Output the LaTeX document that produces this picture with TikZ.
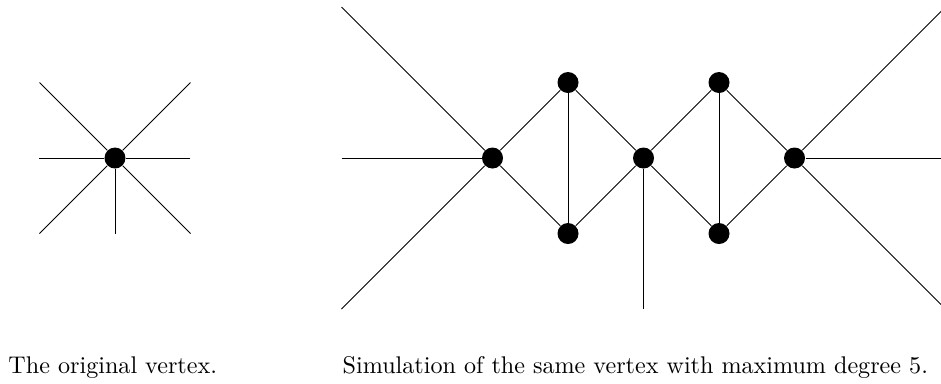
\documentclass[tikz,border=0pt]{standalone}
\usepackage{amsmath}
\usepackage{amssymb}
\usepackage{tikz}
\usetikzlibrary{positioning}

\begin{document}
\begin{tikzpicture}[x=1.1cm, y=1.1cm, on grid, dot/.style={circle, fill=black, inner sep=0pt, minimum size=8.7pt}, caption/.style={anchor=base west, inner sep=0pt}]
        \useasboundingbox (-1.523,-2.98) rectangle (10.94,2.093);

        % the original vertex
        \node[dot] (v) at (0,0) {};
        \coordinate[left=1.1cm of v] (vw);
        \coordinate[right=1.1cm of v] (ve);
        \coordinate[below=1.1cm of v] (vs);
        \coordinate[above left=1.1cm and 1.1cm of v] (vnw);
        \coordinate[above right=1.1cm and 1.1cm of v] (vne);
        \coordinate[below left=1.1cm and 1.1cm of v] (vsw);
        \coordinate[below right=1.1cm and 1.1cm of v] (vse);

        \foreach \t in {vw, ve, vs, vnw, vne, vsw, vse}
            \draw (v) -- (\t);

        % the simulation
        \node[dot] (a) at (5,0) {};
        \node[dot] (b) [above right=1.1cm and 1.1cm of a] {};
        \node[dot] (c) [below right=1.1cm and 1.1cm of a] {};
        \node[dot] (d) [below right=1.1cm and 1.1cm of b] {};
        \node[dot] (e) [above right=1.1cm and 1.1cm of d] {};
        \node[dot] (f) [below right=1.1cm and 1.1cm of d] {};
        \node[dot] (g) [below right=1.1cm and 1.1cm of e] {};

        \coordinate[above left=2.2cm and 2.2cm of a] (anw);
        \coordinate[left=2.2cm of a] (aw);
        \coordinate[below left=2.2cm and 2.2cm of a] (asw);
        \coordinate[below=2.2cm of d] (ds);
        \coordinate[above right=2.2cm and 2.2cm of g] (gne);
        \coordinate[right=2.2cm of g] (ge);
        \coordinate[below right=2.2cm and 2.2cm of g] (gse);

        \draw (a) -- (b);
        \draw (a) -- (c);
        \draw (b) -- (c);
        \draw (b) -- (d);
        \draw (c) -- (d);
        \draw (d) -- (e);
        \draw (d) -- (f);
        \draw (e) -- (f);
        \draw (e) -- (g);
        \draw (f) -- (g);

        \draw (a) -- (anw);
        \draw (a) -- (aw);
        \draw (a) -- (asw);
        \draw (d) -- (ds);
        \draw (g) -- (gne);
        \draw (g) -- (ge);
        \draw (g) -- (gse);

        \node[caption] (cap1) at (-1.417,-2.848) {The original vertex.};
        \node[caption] (cap2) at (3.01,-2.848) {Simulation of the same vertex with maximum degree 5.};
    \end{tikzpicture}
\end{document}
